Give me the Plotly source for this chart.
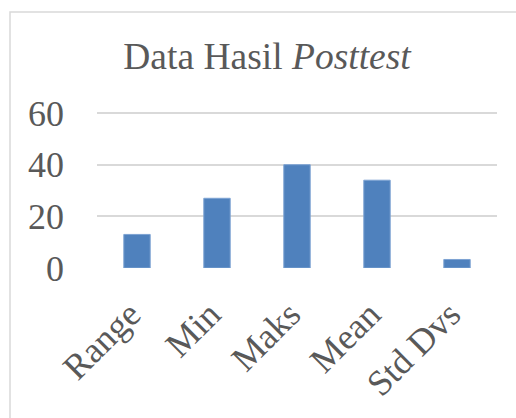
import plotly.graph_objects as go

categories = ["Range", "Min", "Maks", "Mean", "Std Dvs"]
values = [13, 27, 40, 34, 3.3]
y_ticks = [0, 20, 40, 60]

W, H = 516, 418
L, R, T, B = 97, 19, 111, 150
pw, ph = W - L - R, H - T - B

fig = go.Figure(go.Bar(
    x=categories, y=values,
    marker=dict(color="#4F81BD", line=dict(color="#7DA3D3", width=1)),
))

font = "Liberation Serif, Times New Roman, serif"
fig.update_layout(
    width=W, height=H,
    margin=dict(l=L, r=R, t=T, b=B),
    paper_bgcolor="white", plot_bgcolor="white",
    bargap=0.67,
    showlegend=False,
    font=dict(family=font, color="#595959", size=36),
    title=dict(text="Data Hasil <i>Posttest</i>", x=267 / W, xanchor="center",
               y=1 - 56 / H, yanchor="middle", yref="container",
               font=dict(family=font, size=37.5, color="#595959")),
    xaxis=dict(tickangle=-45, showgrid=False, showline=False, ticks="",
               ticklabelstandoff=17, ticklabelshift=-7,
               tickfont=dict(size=36), automargin=False),
    yaxis=dict(range=[0, 60.8], tickvals=y_ticks, showgrid=True, gridcolor="#D9D9D9",
               gridwidth=1.5, zeroline=False, showline=False, ticks="",
               ticklabelstandoff=32, tickfont=dict(size=36), automargin=False),
)

fig.add_shape(type="rect", xref="paper", yref="paper",
              x0=(10 - L) / pw, x1=(540 - L) / pw,
              y0=(H - B - 440) / ph, y1=(H - B - 12) / ph,
              line=dict(color="#D9D9D9", width=1.5), fillcolor="rgba(0,0,0,0)",
              layer="below")

fig.write_html("out.html", config={"displayModeBar": False},
               post_script="document.body.style.margin='0';")
